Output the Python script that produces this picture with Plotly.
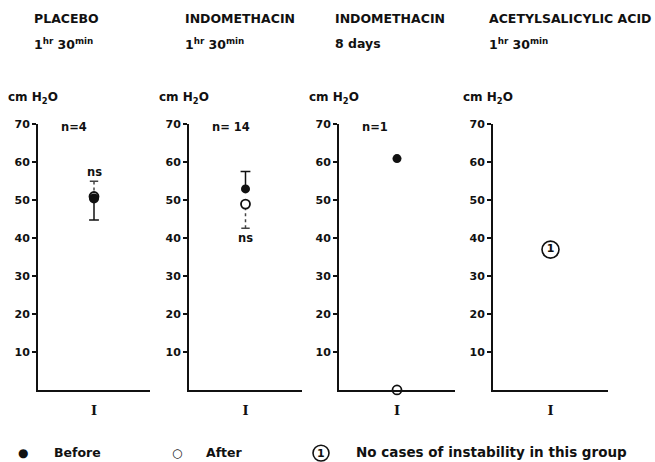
import plotly.graph_objects as go

# ---------------- data ----------------
drug_names = ["PLACEBO", "INDOMETHACIN", "INDOMETHACIN", "ACETYLSALICYLIC ACID"]
durations = ["1<sup>hr</sup> 30<sup>min</sup>", "1<sup>hr</sup> 30<sup>min</sup>",
             "8 days", "1<sup>hr</sup> 30<sup>min</sup>"]
n_labels = ["n=4", "n= 14", "n=1", None]
category = "I"

before_mean = [50.5, 53.0, 61.0, None]
before_err_minus = [5.7, 0.0, 0.0, None]
before_err_plus = [0.0, 4.6, 0.0, None]

after_mean = [51.0, 49.0, 0.0, None]
after_err_minus = [0.0, 6.4, 0.0, None]
after_err_plus = [4.0, 0.0, 0.0, None]

ns_values = [57.5, 40.0, None, None]     # height of the "ns" label
no_case_value = [None, None, None, 37.0]  # circled "1" marker

y_ticks = [10, 20, 30, 40, 50, 60, 70]
y_range = [0, 70]

# ---------------- layout geometry ----------------
W, H = 655, 462
x_px = [(38, 150), (189, 302), (339, 455), (493, 608)]
y_bottom_px, y_top_px = 389, 120
FONT = "DejaVu Sans"
BLACK = "#111111"
DY = 4  # visual correction for annotation vertical centring

def px(x):
    return x / W

def py(y):
    return 1 - y / H

def bfont(size):
    return dict(size=size, family=FONT, color=BLACK, weight="bold")

fig = go.Figure()
layout = dict(width=W, height=H, margin=dict(l=0, r=0, t=0, b=0),
              paper_bgcolor="white", plot_bgcolor="white", showlegend=False,
              font=dict(family=FONT, color=BLACK))
annotations = []
shapes = []

for i in range(4):
    xa = "x" if i == 0 else f"x{i+1}"
    ya = "y" if i == 0 else f"y{i+1}"
    xkey = "xaxis" if i == 0 else f"xaxis{i+1}"
    ykey = "yaxis" if i == 0 else f"yaxis{i+1}"
    x0, x1 = x_px[i]
    layout[xkey] = dict(domain=[px(x0), px(x1)], anchor=ya, type="category",
                        showline=True, linecolor=BLACK, linewidth=2,
                        showgrid=False, zeroline=False, ticks="",
                        tickfont=dict(family="DejaVu Serif", size=13, color=BLACK, weight="bold"),
                        ticklabelstandoff=7, fixedrange=True)
    layout[ykey] = dict(domain=[py(y_bottom_px), py(y_top_px)], anchor=xa,
                        range=y_range, tickvals=y_ticks,
                        showline=True, linecolor=BLACK, linewidth=2,
                        showgrid=False, zeroline=False, ticks="outside",
                        ticklen=4, tickwidth=1.5, tickcolor=BLACK,
                        tickfont=bfont(11),
                        ticklabelstandoff=0)

    # axis header / titles
    annotations.append(dict(text="cm H<sub>2</sub>O", xref="paper", yref="paper",
                            x=px(x0 - 32), y=py(97 - DY), xanchor="left", yanchor="middle",
                            showarrow=False, font=bfont(12)))
    annotations.append(dict(text=drug_names[i], xref="paper", yref="paper",
                            x=px(x0 - 6), y=py(17 - DY), xanchor="left", yanchor="middle",
                            showarrow=False, font=bfont(12.5)))
    annotations.append(dict(text=durations[i], xref="paper", yref="paper",
                            x=px(x0 - 6), y=py(42 - DY), xanchor="left", yanchor="middle",
                            showarrow=False, font=bfont(12.5)))
    if n_labels[i]:
        annotations.append(dict(text=n_labels[i], xref="paper", yref="paper",
                                x=px(x0 + 21), y=py(127 - DY), xanchor="left", yanchor="middle",
                                showarrow=False, font=bfont(11.5)))

    # invisible trace to keep category axis
    fig.add_trace(go.Scatter(x=[category], y=[None], xaxis=xa, yaxis=ya,
                             mode="markers", hoverinfo="skip"))

    # after (open) error segment (dotted)
    if after_mean[i] is not None:
        lo = after_mean[i] - after_err_minus[i]
        hi = after_mean[i] + after_err_plus[i]
        if hi > lo:
            fig.add_trace(go.Scatter(x=[category, category], y=[lo, hi], xaxis=xa, yaxis=ya,
                                     mode="lines", line=dict(color="#444444", width=1.5, dash="dot"),
                                     hoverinfo="skip"))
            end = hi if after_err_plus[i] > 0 else lo
            fig.add_trace(go.Scatter(x=[category], y=[end], xaxis=xa, yaxis=ya,
                                     mode="markers",
                                     marker=dict(symbol="line-ew", size=6, color="#444444",
                                                 line=dict(color="#444444", width=1.5)),
                                     hoverinfo="skip"))
    # before (filled) error segment (solid)
    if before_mean[i] is not None:
        lo = before_mean[i] - before_err_minus[i]
        hi = before_mean[i] + before_err_plus[i]
        if hi > lo:
            fig.add_trace(go.Scatter(x=[category, category], y=[lo, hi], xaxis=xa, yaxis=ya,
                                     mode="lines", line=dict(color=BLACK, width=1.5),
                                     hoverinfo="skip"))
            end = hi if before_err_plus[i] > 0 else lo
            fig.add_trace(go.Scatter(x=[category], y=[end], xaxis=xa, yaxis=ya,
                                     mode="markers",
                                     marker=dict(symbol="line-ew", size=7, color=BLACK,
                                                 line=dict(color=BLACK, width=1.5)),
                                     hoverinfo="skip"))
    # after marker
    if after_mean[i] is not None:
        fig.add_trace(go.Scatter(x=[category], y=[after_mean[i]], xaxis=xa, yaxis=ya,
                                 mode="markers", cliponaxis=False,
                                 marker=dict(symbol="circle", size=9, color="white",
                                             line=dict(color=BLACK, width=1.8)),
                                 hoverinfo="skip"))
    # before marker
    if before_mean[i] is not None:
        fig.add_trace(go.Scatter(x=[category], y=[before_mean[i]], xaxis=xa, yaxis=ya,
                                 mode="markers", cliponaxis=False,
                                 marker=dict(symbol="circle", size=10 if i == 0 else 9,
                                             color=BLACK, line=dict(width=0)),
                                 hoverinfo="skip"))
    if ns_values[i] is not None:
        annotations.append(dict(text="ns", xref=xa, yref=ya, x=category,
                                y=ns_values[i], showarrow=False, font=bfont(11.5)))
    if no_case_value[i] is not None:
        fig.add_trace(go.Scatter(x=[category], y=[no_case_value[i]], xaxis=xa, yaxis=ya,
                                 mode="markers+text", text=["1"],
                                 textposition="middle center",
                                 textfont=bfont(11),
                                 marker=dict(symbol="circle-open", size=17, color=BLACK,
                                             line=dict(color=BLACK, width=1.6)),
                                 hoverinfo="skip"))

# ---------------- legend ----------------
leg_kw = dict(xref="paper", yref="paper", y=0, yanchor="bottom", showarrow=False)
annotations.append(dict(text="●", x=px(16), font=bfont(12), **leg_kw))
annotations.append(dict(text="Before", x=px(52), xanchor="left", font=bfont(12.5), **leg_kw))
annotations.append(dict(text="○", x=px(170), font=bfont(12), **leg_kw))
annotations.append(dict(text="After", x=px(204), xanchor="left", font=bfont(12.5), **leg_kw))
annotations.append(dict(text="1", x=px(321), font=bfont(11), **leg_kw))
annotations.append(dict(text="No cases of instability in this group", x=px(354),
                        xanchor="left", font=bfont(13.5), **leg_kw))
shapes.append(dict(type="circle", xref="paper", yref="paper",
                   x0=px(313), x1=px(329), y0=py(461), y1=py(445),
                   line=dict(color=BLACK, width=1.6)))

layout["annotations"] = annotations
layout["shapes"] = shapes
fig.update_layout(**layout)
fig.write_html("out.html")
